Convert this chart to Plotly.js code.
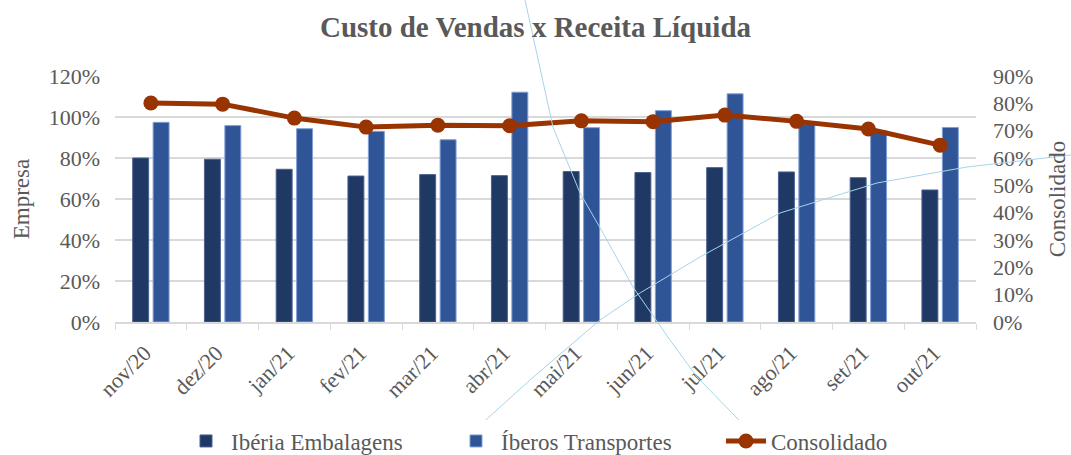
<!DOCTYPE html>
<html>
<head>
<meta charset="utf-8">
<script src="https://cdn.plot.ly/plotly-3.0.1.min.js"></script>
<style>
html,body{margin:0;padding:0;background:#fff;}
#chart{width:1071px;height:455px;}
</style>
</head>
<body>
<div id="chart"></div>
<script>
const categories = ['nov/20','dez/20','jan/21','fev/21','mar/21','abr/21','mai/21','jun/21','jul/21','ago/21','set/21','out/21'];
const iberiaEmbalagens = [0.80, 0.794, 0.745, 0.712, 0.719, 0.714, 0.734, 0.729, 0.753, 0.732, 0.704, 0.644];
const iberosTransportes = [0.974, 0.958, 0.943, 0.930, 0.889, 1.121, 0.948, 1.031, 1.113, 0.967, 0.933, 0.949];
const consolidado = [0.801, 0.797, 0.746, 0.713, 0.720, 0.718, 0.736, 0.733, 0.757, 0.734, 0.706, 0.647];

const leftTicks = [0, 0.2, 0.4, 0.6, 0.8, 1.0, 1.2];
const rightTicks = [0, 0.1, 0.2, 0.3, 0.4, 0.5, 0.6, 0.7, 0.8, 0.9];

const FONT = 'Liberation Serif';
const GREY = '#595959';

const W = 1071, H = 455;
const M = {l: 115, r: 95, t: 76, b: 133};
const pw = W - M.l - M.r, ph = H - M.t - M.b;
// decorative connector curves visible over the reference image (pixel positions)
const deco1 = [[525,0],[553,127],[580,193],[603,233],[633,287],[670,340],[697,377],[773,455]];
const deco2 = [[447,455],[530,380],[600,320],[640,293],[700,257],[780,213],[877,183],[967,167],[1071,155]];
function toPath(pts){
  return pts.map((p,i)=>(i?'L':'M')+((p[0]-M.l)/pw).toFixed(4)+','+((H-M.b-p[1])/ph).toFixed(4)).join(' ');
}

const traces = [
  {type:'bar', name:'Ibéria Embalagens', x:categories, y:iberiaEmbalagens,
   marker:{color:'#203864', line:{color:'#4a6290', width:1}}, yaxis:'y'},
  {type:'bar', name:'Íberos Transportes', x:categories, y:iberosTransportes,
   marker:{color:'#2F5597', line:{color:'#7f9fd6', width:1}}, yaxis:'y'},
  {type:'scatter', mode:'lines+markers', name:'Consolidado', x:categories, y:consolidado,
   line:{color:'#993300', width:5}, marker:{color:'#993300', size:15}, yaxis:'y2'}
];

const layout = {
  width: W, height: H,
  margin: Object.assign({autoexpand:false}, M),
  paper_bgcolor:'#fff', plot_bgcolor:'#fff',
  font:{family:FONT, color:GREY, size:22},
  title:{text:'<b>Custo de Vendas x Receita Líquida</b>', x:0.5, xanchor:'center',
         y:(H-27)/H, yref:'container', yanchor:'middle',
         font:{family:FONT, size:29, color:GREY}},
  barmode:'group', bargap:0.43, bargroupgap:0.22,
  showlegend:true,
  legend:{orientation:'h', x:181/W, xref:'container', xanchor:'left', y:(455-441)/455, yref:'container', yanchor:'middle',
          font:{family:FONT, size:23, color:GREY}, traceorder:'normal', itemwidth:40, entrywidth:215},
  xaxis:{type:'category', range:[-0.5, categories.length-0.5], tickangle:-45, showgrid:false, showline:true,
         linecolor:'#D9D9D9', linewidth:1.5,
         ticks:'outside', tickson:'boundaries', ticklen:6, tickcolor:'#D9D9D9', automargin:false,
         ticklabelshift:-6, ticklabelstandoff:8,
         tickfont:{family:FONT, size:22, color:GREY}, fixedrange:true},
  yaxis:{range:[0,1.2], tickvals:leftTicks, tickformat:'.0%', showgrid:true, gridcolor:'#D9D9D9', gridwidth:1.2,
         zeroline:false, showline:false, ticks:'', ticklabelstandoff:14, automargin:false,
         tickfont:{family:FONT, size:22, color:GREY},
         title:{text:'Empresa', font:{family:FONT, size:23, color:GREY}, standoff:12}},
  yaxis2:{range:[0,0.9], tickvals:rightTicks, tickformat:'.0%', overlaying:'y', side:'right', showgrid:false,
          zeroline:false, showline:false, ticks:'', ticklabelstandoff:16, automargin:false,
          tickfont:{family:FONT, size:22, color:GREY},
          title:{text:'Consolidado', font:{family:FONT, size:23, color:GREY}, standoff:16}},
  shapes:[
    {type:'path', xref:'paper', yref:'paper', path:toPath(deco1), line:{color:'#A6D5E8', width:1}, layer:'above'},
    {type:'path', xref:'paper', yref:'paper', path:toPath(deco2), line:{color:'#A6D5E8', width:1}, layer:'above'}
  ]
};

Plotly.newPlot('chart', traces, layout, {displayModeBar:false, staticPlot:true});
</script>
</body>
</html>
